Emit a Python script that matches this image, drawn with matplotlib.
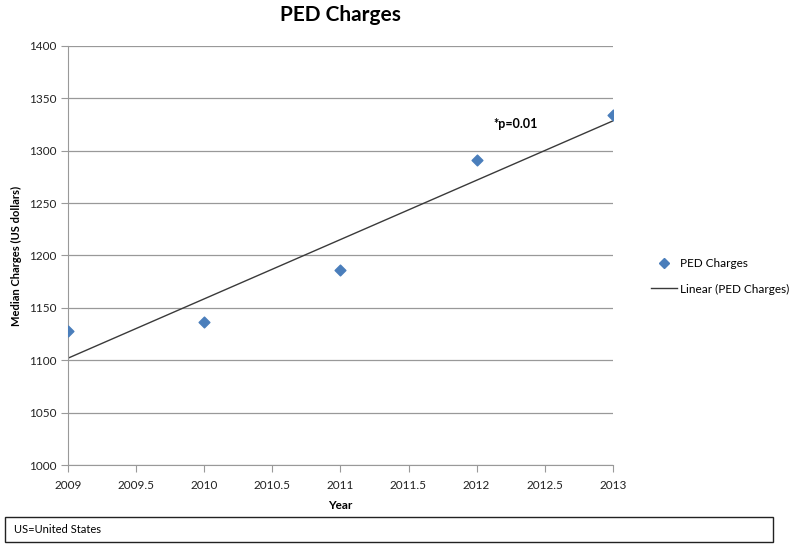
import numpy as np
import matplotlib
matplotlib.use("Agg")
import matplotlib.pyplot as plt
from matplotlib.lines import Line2D
from matplotlib.patches import Rectangle

# datos
years = [2009, 2010, 2011, 2012, 2013]
charges = [1128, 1137, 1186, 1291, 1334]
x_ticks = [2009, 2009.5, 2010, 2010.5, 2011, 2011.5, 2012, 2012.5, 2013]
y_ticks = [1000, 1050, 1100, 1150, 1200, 1250, 1300, 1350, 1400]

plt.rcParams["font.family"] = ["Lato", "DejaVu Sans"]

fig = plt.figure(figsize=(8, 5.53), dpi=100)
ax = fig.add_axes([0.085, 0.159, 0.681, 0.758])

blue = "#4a7ebb"
grid_c = "#999999"

ax.scatter(years, charges, marker="D", s=30, color=blue, zorder=3)

# linea de tendencia (minimos cuadrados)
slope, icpt = np.polyfit(years, charges, 1)
xx = np.array([years[0], years[-1]])
ax.plot(xx, slope * xx + icpt, color="#3a3a3a", lw=1.0, zorder=2)

ax.set_xlim(2009, 2013)
ax.set_ylim(1000, 1400)
ax.set_xticks(x_ticks)
ax.set_xticklabels([f"{v:g}" for v in x_ticks])
ax.set_yticks(y_ticks)
ax.yaxis.grid(True, color=grid_c, lw=0.9)
ax.set_axisbelow(True)
for s in ["top", "right"]:
    ax.spines[s].set_visible(False)
for s in ["left", "bottom"]:
    ax.spines[s].set_color(grid_c)
ax.tick_params(axis="both", colors=grid_c, labelcolor="#222222",
               labelsize=8.5, length=5, direction="out")
ax.tick_params(axis="x", pad=6)

ax.set_title("PED Charges", fontsize=15, fontweight="bold", pad=18)
ax.set_xlabel("Year", fontsize=8.5, fontweight="bold", labelpad=6)
ax.set_ylabel("Median Charges (US dollars)", fontsize=8, fontweight="bold",
              labelpad=5)

ax.text(2012.12, 1325, "*p=0.01", fontsize=9, fontweight="bold",
        ha="left", va="center")

handles = [
    Line2D([], [], marker="D", ls="none", color=blue, markersize=5,
           label="PED Charges"),
    Line2D([], [], color="#3a3a3a", lw=1.0, label="Linear (PED Charges)"),
]
fig.legend(handles=handles, loc="center left", bbox_to_anchor=(0.8, 0.5),
           frameon=False, fontsize=8.5, handlelength=2.2,
           handletextpad=0.3, labelspacing=1.2)

# caja de nota al pie
fig.patches.append(Rectangle((0.006, 0.02), 0.96, 0.045,
                             transform=fig.transFigure, fill=False,
                             edgecolor="#222222", lw=1.0))
fig.text(0.018, 0.043, "US=United States", fontsize=8, va="center")

fig.savefig("out.png", dpi=100)
